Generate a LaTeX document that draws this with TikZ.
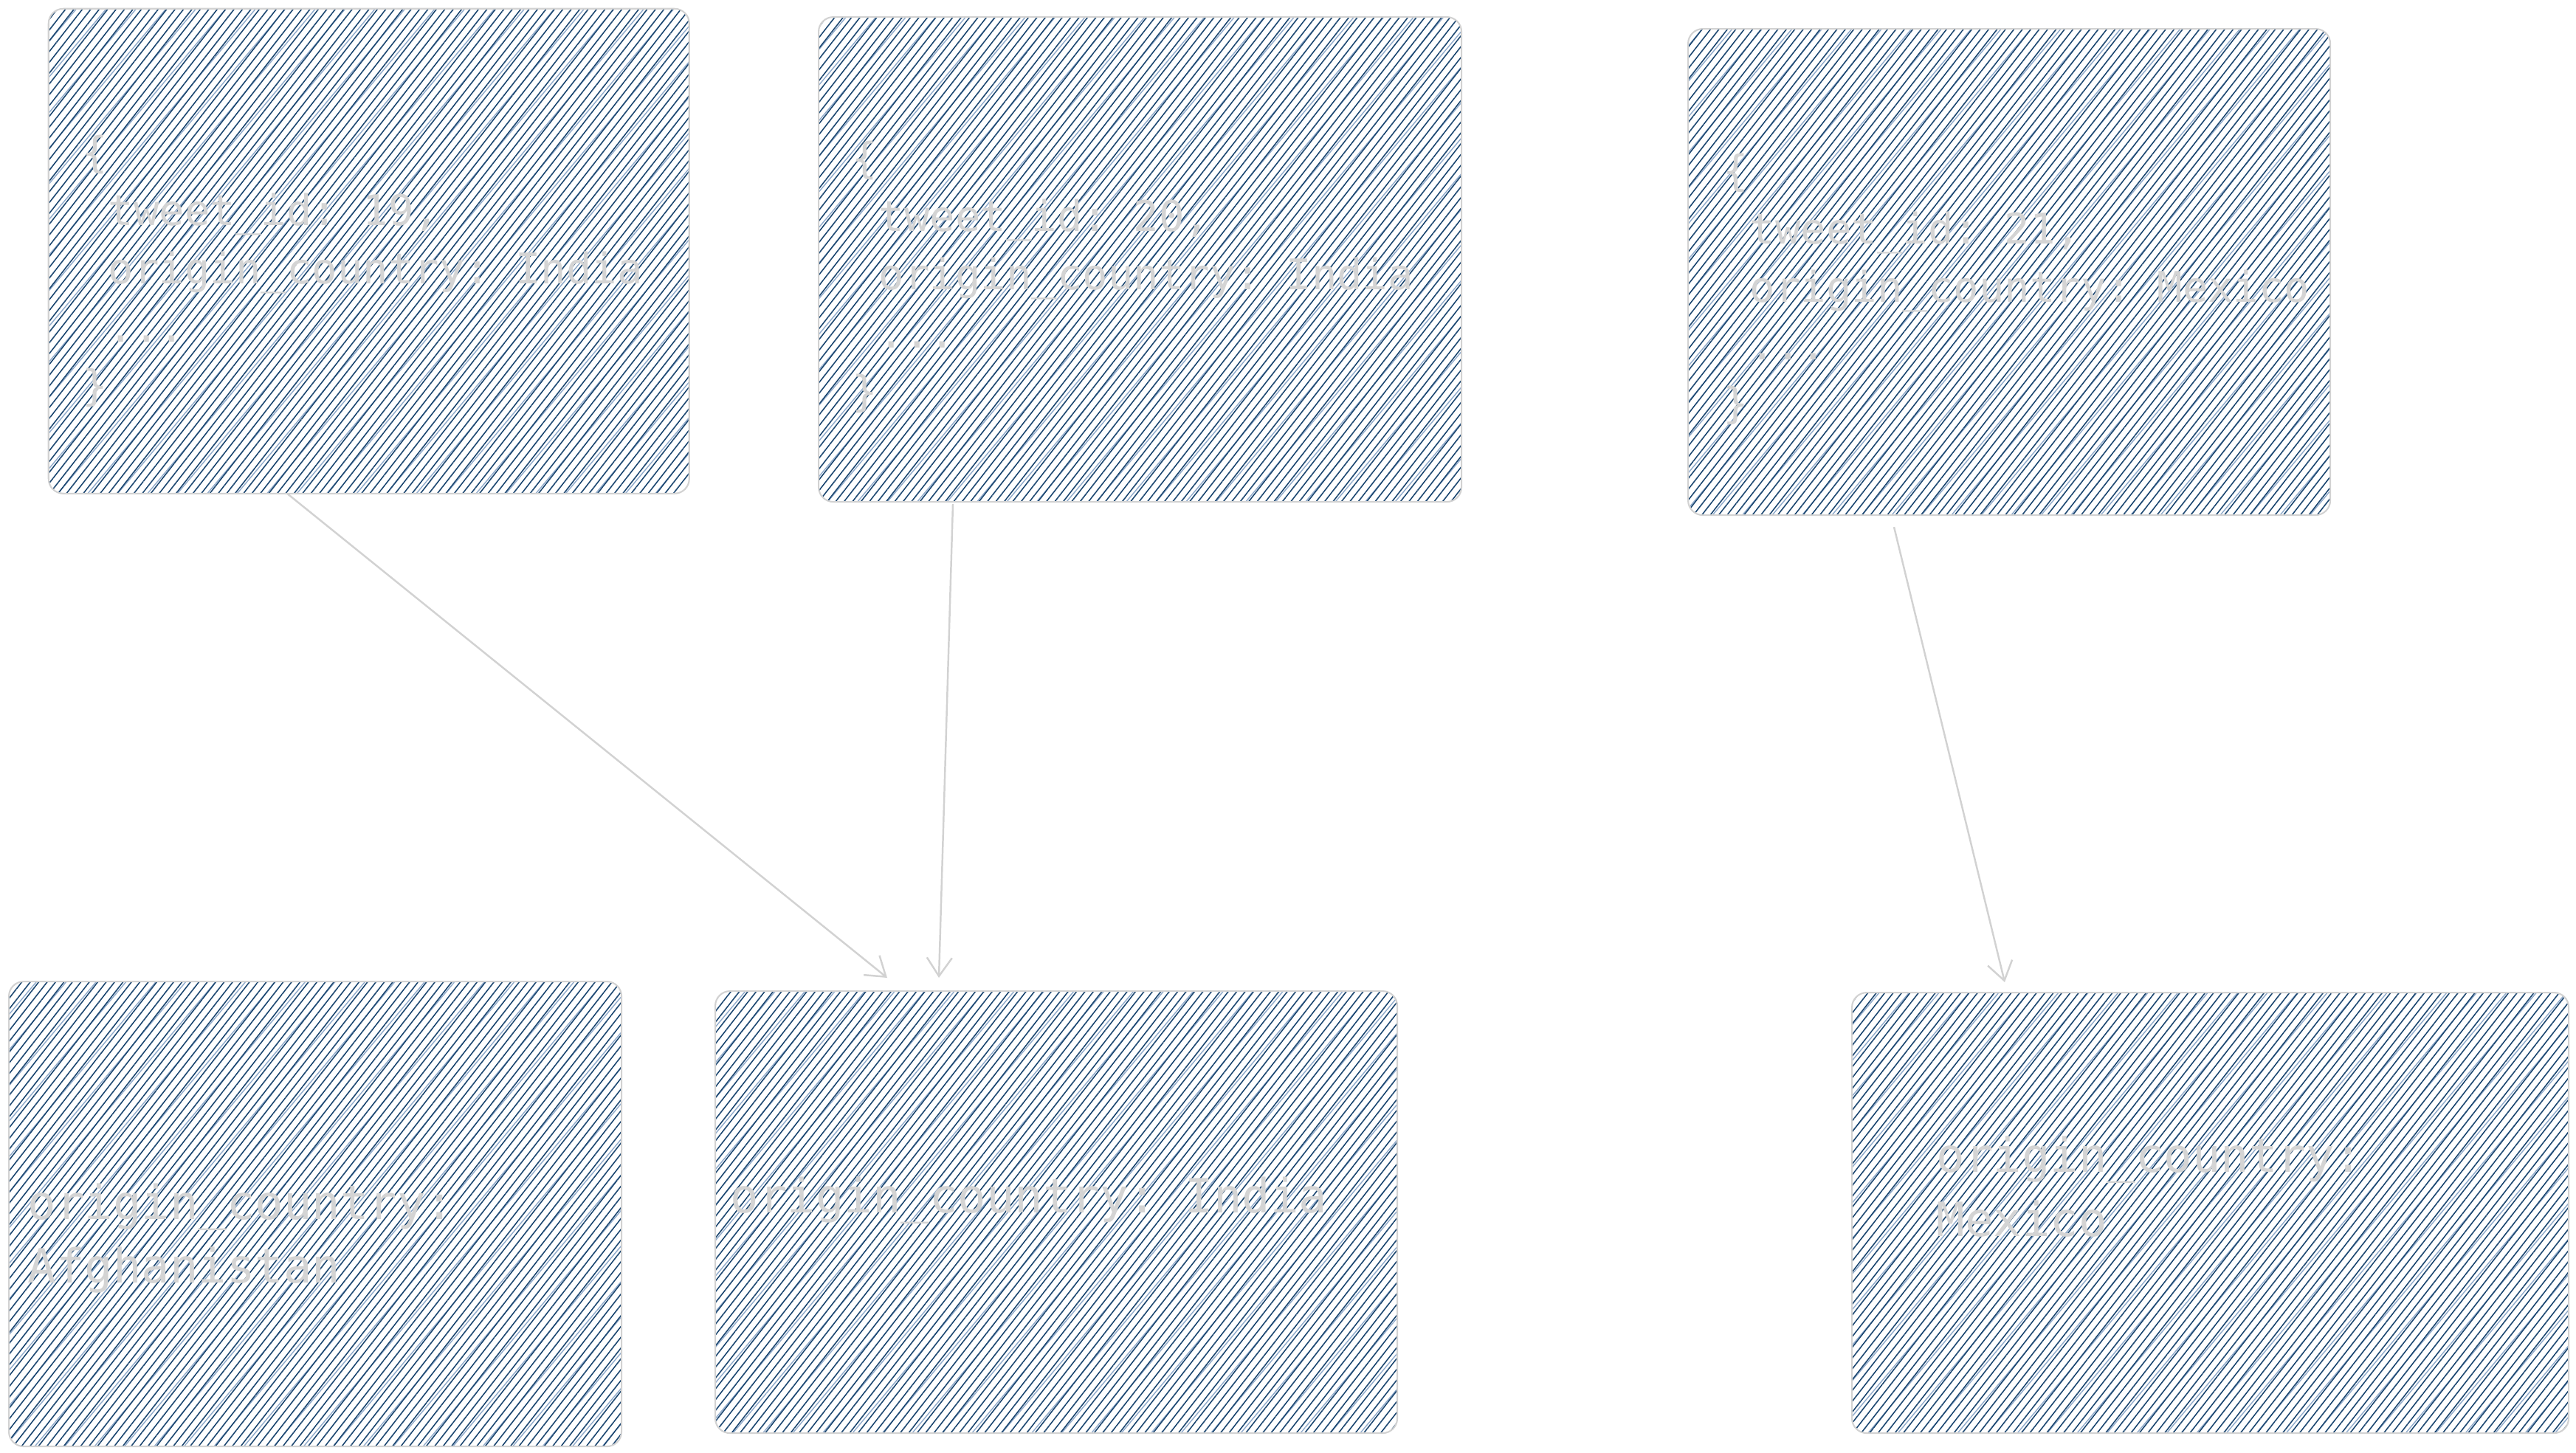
\documentclass[tikz,border=0pt]{standalone}
\usepackage{fontspec}
\setmonofont{DejaVu Sans Mono}
\usetikzlibrary{patterns.meta,arrows.meta}
\definecolor{hatch}{HTML}{1B4670}
\definecolor{hatchlight}{HTML}{8FAACB}
\definecolor{edgegray}{HTML}{D2D2D2}
\definecolor{txtgray}{HTML}{D4D4D4}
\tikzset{
  card/.style={draw=edgegray, line width=0.6pt, rounded corners=0.2cm,
    inner sep=0pt, anchor=north west,
    preaction={pattern={Lines[angle=50,distance=0.31cm,line width=0.4pt]}, pattern color=hatchlight},
    pattern={Lines[angle=52,distance=0.09cm,line width=0.45pt]}, pattern color=hatch},
  toptxt/.style={font=\ttfamily\fontsize{16.3}{20}\selectfont, text=txtgray, anchor=base west, inner sep=0pt},
  bottxt/.style={font=\ttfamily\fontsize{18.2}{22}\selectfont, text=txtgray, anchor=base west, inner sep=0pt},
  conn/.style={draw=edgegray, line width=0.7pt, -{Straight Barb[length=0.25cm,width=0.34cm,line width=0.7pt]}}
}
\begin{document}
\begin{tikzpicture}
\useasboundingbox (0,0) rectangle (34.90,-19.68);
% boxes
\node[card, minimum width=8.68cm, minimum height=6.57cm] (b1) at (0.65,-0.11) {};
\node[card, minimum width=8.71cm, minimum height=6.57cm] (b2) at (11.08,-0.22) {};
\node[card, minimum width=8.70cm, minimum height=6.59cm] (b3) at (22.86,-0.38) {};
\node[card, minimum width=8.30cm, minimum height=6.30cm] (b4) at (0.11,-13.29) {};
\node[card, minimum width=9.24cm, minimum height=5.99cm] (b5) at (9.68,-13.42) {};
\node[card, minimum width=9.71cm, minimum height=5.97cm] (b6) at (25.08,-13.44) {};
% texts box 1
\node[toptxt] (t1a) at (1.11,-2.26) {\{};
\node[toptxt] (t1b) at (1.46,-3.05) {tweet\_id: 19,};
\node[toptxt] (t1c) at (1.46,-3.84) {origin\_country: India};
\node[toptxt] (t1d) at (1.46,-4.63) {...};
\node[toptxt] (t1e) at (1.11,-5.42) {\}};
% texts box 2
\node[toptxt] (t2a) at (11.54,-2.34) {\{};
\node[toptxt] (t2b) at (11.90,-3.13) {tweet\_id: 20,};
\node[toptxt] (t2c) at (11.90,-3.92) {origin\_country: India};
\node[toptxt] (t2d) at (11.90,-4.71) {...};
\node[toptxt] (t2e) at (11.54,-5.50) {\}};
% texts box 3
\node[toptxt] (t3a) at (23.34,-2.51) {\{};
\node[toptxt] (t3b) at (23.70,-3.30) {tweet\_id: 21,};
\node[toptxt] (t3c) at (23.70,-4.09) {origin\_country: Mexico};
\node[toptxt] (t3d) at (23.70,-4.87) {...};
\node[toptxt] (t3e) at (23.34,-5.66) {\}};
% bottom texts
\node[bottxt] (t4a) at (0.37,-16.52) {origin\_country:};
\node[bottxt] (t4b) at (0.37,-17.38) {Afghanistan};
\node[bottxt] (t5a) at (9.89,-16.43) {origin\_country: India};
\node[bottxt] (t6a) at (26.23,-15.88) {origin\_country:};
\node[bottxt] (t6b) at (26.23,-16.75) {Mexico};
% connectors
\draw[conn] ([xshift=3.25cm]b1.south west) -- ([xshift=2.34cm,yshift=0.17cm]b5.north west);
\draw[conn] ([xshift=1.83cm,yshift=-0.02cm]b2.south west) -- ([xshift=3.04cm,yshift=0.17cm]b5.north west);
\draw[conn] ([xshift=2.80cm,yshift=-0.15cm]b3.south west) -- ([xshift=2.08cm,yshift=0.13cm]b6.north west);
\end{tikzpicture}
\end{document}
